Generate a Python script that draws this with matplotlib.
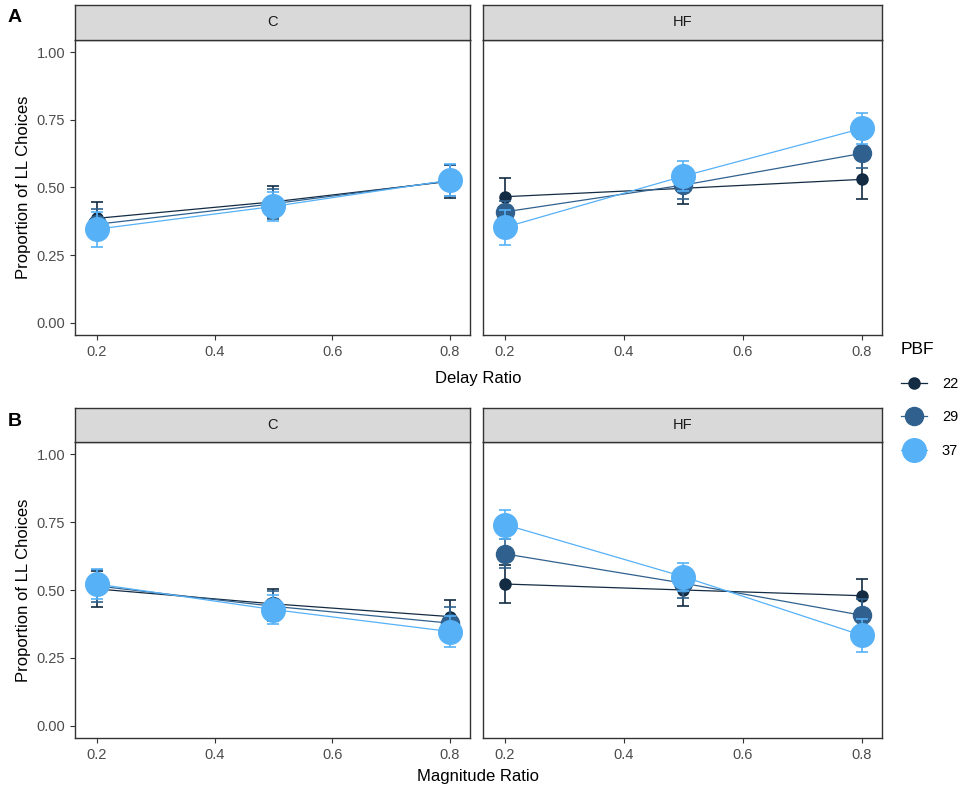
import numpy as np
import matplotlib.pyplot as plt
from matplotlib.lines import Line2D

ratios = [0.2, 0.5, 0.8]
pbf_levels = ["22", "29", "37"]
colors = ["#132B43", "#30618E", "#56B1F7"]
msizes = [8, 13, 17]
facets = ["C", "HF"]

# row A: delay ratio, row B: magnitude ratio ; [facet][pbf] -> values
delay_mean = {
    "C":  [[0.386, 0.447, 0.523], [0.364, 0.440, 0.525], [0.346, 0.430, 0.527]],
    "HF": [[0.466, 0.497, 0.530], [0.410, 0.509, 0.626], [0.353, 0.542, 0.718]],
}
delay_err = {
    "C":  [[0.060, 0.060, 0.060], [0.055, 0.055, 0.058], [0.065, 0.053, 0.060]],
    "HF": [[0.070, 0.058, 0.072], [0.040, 0.050, 0.055], [0.065, 0.056, 0.058]],
}
mag_mean = {
    "C":  [[0.504, 0.449, 0.402], [0.515, 0.440, 0.378], [0.522, 0.428, 0.347]],
    "HF": [[0.522, 0.500, 0.479], [0.633, 0.525, 0.407], [0.741, 0.549, 0.333]],
}
mag_err = {
    "C":  [[0.065, 0.055, 0.062], [0.060, 0.055, 0.058], [0.055, 0.053, 0.057]],
    "HF": [[0.070, 0.058, 0.063], [0.053, 0.055, 0.060], [0.053, 0.052, 0.062]],
}

plt.rcParams['font.family'] = ['Liberation Sans', 'DejaVu Sans']

W, H = 968, 795
fig = plt.figure(figsize=(W / 100, H / 100), dpi=100)


def px_axes(x0, y0, x1, y1):
    return fig.add_axes([x0 / W, 1 - y1 / H, (x1 - x0) / W, (y1 - y0) / H])


rows = [
    (delay_mean, delay_err, 40, 335, 5, "Delay Ratio", 379, "A"),
    (mag_mean, mag_err, 442, 738, 408, "Magnitude Ratio", 777, "B"),
]
cols = [(75, 470), (483, 882)]

for means, errs, ytop, ybot, stop, xlab, xlab_y, tag in rows:
    for ci, facet in enumerate(facets):
        x0, x1 = cols[ci]
        ax = px_axes(x0, ytop, x1, ybot)
        for k in range(3):
            ax.errorbar(ratios, means[facet][k], yerr=errs[facet][k], color=colors[k],
                        marker="o", markersize=msizes[k], linewidth=0.9, elinewidth=1.2,
                        capsize=4, capthick=1.2, zorder=2 + k)
        ax.set_xlim(0.163, 0.834)
        ax.set_ylim(-0.045, 1.045)
        ax.set_xticks([0.2, 0.4, 0.6, 0.8])
        ax.set_yticks([0.0, 0.25, 0.5, 0.75, 1.0])
        ax.set_yticklabels(["0.00", "0.25", "0.50", "0.75", "1.00"])
        ax.tick_params(labelsize=10.5, labelcolor="#4D4D4D", color="#333333", length=3.5)
        for s in ax.spines.values():
            s.set_color("#333333")
            s.set_linewidth(1.0)
        if ci == 1:
            ax.tick_params(axis="y", left=False, labelleft=False)
        else:
            ax.set_ylabel("Proportion of LL Choices", fontsize=12, labelpad=4)
        # facet strip
        sx = px_axes(x0, stop, x1, ytop)
        sx.set_facecolor("#D9D9D9")
        sx.set_xticks([])
        sx.set_yticks([])
        for s in sx.spines.values():
            s.set_color("#333333")
            s.set_linewidth(1.0)
        sx.text(0.5, 0.5, facet, ha="center", va="center", fontsize=10.5,
                color="#1A1A1A", transform=sx.transAxes)
    fig.text(478 / W, 1 - xlab_y / H, xlab, ha="center", va="center", fontsize=12)
    fig.text(8 / W, 1 - (stop + 13) / H, tag, ha="left", va="center",
             fontsize=14, fontweight="bold")

handles = [Line2D([0], [0], color=colors[k], marker="o", markersize=msizes[k],
                  linewidth=0.9) for k in range(3)]
fig.legend(handles, pbf_levels, title="PBF", loc="center left",
           bbox_to_anchor=(888 / W, 1 - 400 / H), frameon=False, fontsize=10.5,
           title_fontsize=12.5, handlelength=1.8, handletextpad=1.0,
           labelspacing=1.35, alignment="left")

fig.savefig("out.png", dpi=100)
